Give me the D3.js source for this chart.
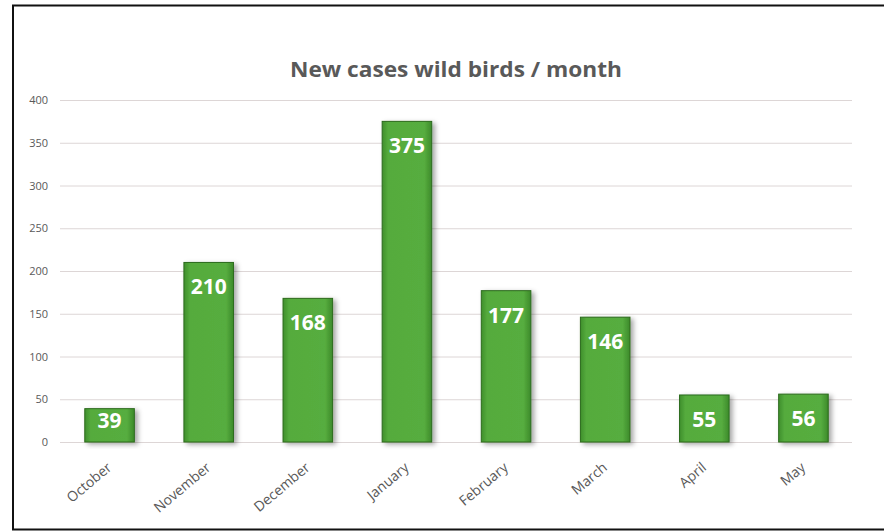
<!DOCTYPE html>
<html>
<head>
<meta charset="utf-8">
<script src="https://cdn.jsdelivr.net/npm/d3@7"></script>
<style>
  body { margin: 0; background: #fff; }
  text { font-family: "Open Sans", sans-serif; }
</style>
</head>
<body>
<div id="chart"></div>
<script>
/* Wild bird cases bar chart */

const months = ["October", "November", "December", "January", "February", "March", "April", "May"];
const cases = [39, 210, 168, 375, 177, 146, 55, 56];
const yTicks = [0, 50, 100, 150, 200, 250, 300, 350, 400];

const width = 884,
    height = 531,
    margin = ({ top: 100, right: 31, bottom: 89, left: 60 });

const svg = d3.select("#chart")
    .append("svg")
    .attr("width", width)
    .attr("height", height);

// frame round the picture (no right edge in the original)
svg.append("path")
    .attr("d", `M884,529.5 H13 V5.5 H884`)
    .attr("fill", "none")
    .attr("stroke", "#111")
    .attr("stroke-width", 2);

const defs = svg.append("defs");
const grad = defs.append("linearGradient").attr("id", "barGrad")
    .attr("x1", "0").attr("x2", "1").attr("y1", "0").attr("y2", "0");
grad.append("stop").attr("offset", "0%").attr("stop-color", "#3f8f2c");
grad.append("stop").attr("offset", "12%").attr("stop-color", "#55ab3d");
grad.append("stop").attr("offset", "85%").attr("stop-color", "#57ad3f");
grad.append("stop").attr("offset", "100%").attr("stop-color", "#3c8a2a");

const shadow = defs.append("filter").attr("id", "shadow")
    .attr("x", "-20%").attr("y", "-10%").attr("width", "150%").attr("height", "130%");
shadow.append("feDropShadow")
    .attr("dx", 3).attr("dy", 2).attr("stdDeviation", 2.5)
    .attr("flood-color", "#000").attr("flood-opacity", 0.35);

let x = d3.scaleBand()
    .domain(months)
    .range([margin.left, width - margin.right])
    .paddingInner(0.5)
    .paddingOuter(0.25);

let y = d3.scaleLinear()
    .domain([0, 400])
    .range([height - margin.bottom, margin.top]);

// gridlines
svg.append("g")
    .selectAll("line")
    .data(yTicks)
    .join("line")
    .attr("x1", margin.left)
    .attr("x2", width - margin.right - 1)
    .attr("y1", d => y(d) + 0.5)
    .attr("y2", d => y(d) + 0.5)
    .attr("stroke", "#ddd6d6")
    .attr("stroke-width", 1);

// y axis labels
const yAxis = svg.append("g")
    .attr("transform", `translate(${margin.left - 12},0)`)
    .call(d3.axisLeft(y).tickValues(yTicks).tickSize(0).tickPadding(0));
yAxis.select(".domain").remove();
yAxis.selectAll("text")
    .attr("fill", "#595959")
    .style("font-size", "11px")
    .style("font-family", "'Open Sans', sans-serif");

// x axis labels, rotated
const xAxis = svg.append("g")
    .attr("transform", `translate(0,${height - margin.bottom})`)
    .call(d3.axisBottom(x).tickSize(0).tickPadding(0));
xAxis.select(".domain").remove();
xAxis.selectAll("text")
    .attr("fill", "#595959")
    .style("font-size", "14px")
    .style("font-family", "'Open Sans', sans-serif")
    .attr("text-anchor", "end")
    .attr("y", 0)
    .attr("dy", null)
    .attr("transform", "translate(3,27) rotate(-40)");

// bars
svg.append("g")
    .selectAll("rect")
    .data(months)
    .join("rect")
    .attr("x", d => x(d))
    .attr("y", (d, i) => y(cases[i]))
    .attr("width", x.bandwidth())
    .attr("height", (d, i) => y(0) - y(cases[i]))
    .attr("fill", "url(#barGrad)")
    .attr("stroke", "#2c6a1d")
    .attr("stroke-width", 1)
    .attr("filter", "url(#shadow)");

// value labels inside the bar ends
svg.append("g")
    .selectAll("text")
    .data(months)
    .join("text")
    .attr("x", d => x(d) + x.bandwidth() / 2)
    .attr("y", (d, i) => Math.min(y(cases[i]) + 32, y(0) - 14))
    .attr("text-anchor", "middle")
    .attr("fill", "#fff")
    .style("font-size", "21px")
    .style("font-weight", "bold")
    .text((d, i) => cases[i]);

// title
svg.append("text")
    .attr("x", 456)
    .attr("y", 77)
    .attr("text-anchor", "middle")
    .attr("fill", "#595959")
    .style("font-size", "21px")
    .style("font-weight", "bold")
    .attr("textLength", 332)
    .attr("lengthAdjust", "spacingAndGlyphs")
    .text("New cases wild birds / month");
</script>
</body>
</html>
